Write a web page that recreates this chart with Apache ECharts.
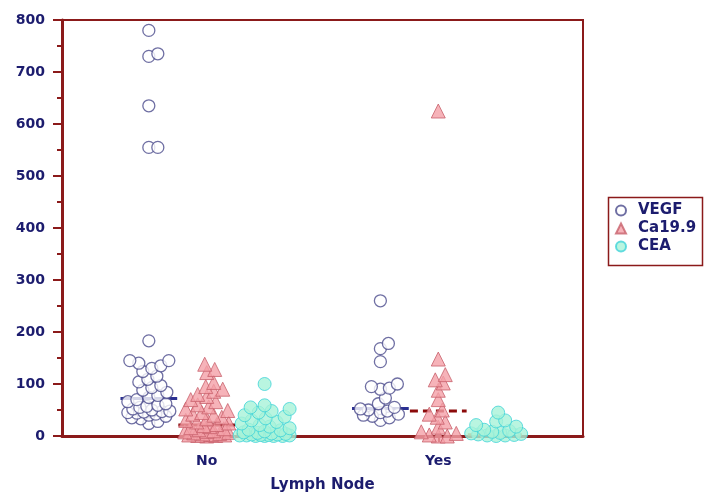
<!DOCTYPE html>
<html>
<head>
<meta charset="utf-8">
<script src="https://cdn.jsdelivr.net/npm/echarts@6/dist/echarts.min.js"></script>
<style>html,body{margin:0;padding:0;background:#fff}#c{width:704px;height:498px}</style>
</head>
<body>
<div id="c"></div>
<script>
// ---- data ----
var groups = ['No', 'Yes'];
var seriesNames = ['VEGF', 'Ca19.9', 'CEA'];
var vegfNo = [780, 735, 730, 635, 555, 555, 183, 145, 145, 140, 135, 130, 124, 115, 109, 104, 97, 93, 88, 84, 78, 74, 70, 66, 62, 59, 57, 55, 52, 50, 48, 47, 46, 45, 44, 42, 40, 38, 35, 33, 28, 24];
var caNo = [138, 128, 122, 103, 95, 90, 86, 80, 76, 70, 66, 60, 56, 52, 49, 45, 42, 40, 36, 33, 30, 27, 25, 22, 20, 18, 16, 14, 12, 10, 9, 8, 7, 6, 5, 4, 3, 2, 2, 1, 1, 0];
var ceaNo = [100, 59, 55, 52, 48, 45, 40, 37, 34, 30, 27, 24, 21, 18, 15, 12, 11, 9, 7, 6, 5, 4, 3, 3, 2, 2, 1, 1, 1, 0, 0, 0, 0];
var vegfYes = [260, 178, 168, 143, 100, 95, 92, 90, 73, 62, 55, 52, 50, 48, 45, 42, 40, 38, 35, 30];
var caYes = [625, 148, 118, 108, 102, 88, 70, 50, 42, 36, 27, 17, 8, 5, 2, 0, 0];
var ceaYes = [45, 30, 28, 21, 18, 12, 10, 8, 6, 5, 4, 3, 2, 1, 1, 0];
var medVEGF = [72, 53];
var medCa = [21, 48];
var medCEA = [4, 3];
var yTicks = [0, 100, 200, 300, 400, 500, 600, 700, 800];

// ---- layout helpers ----
var G = {left: 62, top: 20, right: 121, bottom: 59};
var W = 704, H = 498;
var xMin = 0, xMax = 9, yMax = 800;
var pxX = (W - G.left - G.right) / (xMax - xMin);
var pxY = (H - G.top - G.bottom) / yMax;
var groupCenter = [2.5, 6.5];
var seriesOffset = [-1, 0, 1];

function swarm(values, cx, minDist, maxOffPx) {
  var pts = values.slice().sort(function (a, b) { return a - b; });
  var placed = [];
  var out = [];
  var cands = [0];
  for (var o = 1; o <= maxOffPx; o += 1) { cands.push(o); cands.push(-o); }
  pts.forEach(function (v) {
    var py = v * pxY;
    var best = null, bestD = -1;
    for (var i = 0; i < cands.length; i++) {
      var px = cands[i];
      var md = Infinity;
      for (var j = 0; j < placed.length; j++) {
        var dx = placed[j][0] - px, dy = placed[j][1] - py;
        var d = Math.sqrt(dx * dx + dy * dy);
        if (d < md) md = d;
      }
      if (md >= minDist) { best = px; bestD = md; break; }
      if (md > bestD + 0.5) { bestD = md; best = px; }
    }
    placed.push([best, py]);
    out.push([cx + best / pxX, v]);
  });
  return out;
}

var navy = '#1c1c6e';
var red = '#8b1a1a';
var font = 'DejaVu Sans, Verdana, sans-serif';
var vegfStyle = {color: '#ffffff', borderColor: '#4b4b8c', borderWidth: 1.3};
var caStyle = {color: '#f4a0a8', borderColor: '#c8606c', borderWidth: 1};
var ceaStyle = {color: '#a8f2d8', borderColor: '#3fd3d8', borderWidth: 1};

var raw = [[vegfNo, caNo, ceaNo], [vegfYes, caYes, ceaYes]];
var sizes = [12, 14, 13];
var minD = [9, 8.5, 9];
var maxOff = [21, 22, 25];
var styles = [vegfStyle, caStyle, ceaStyle];
var symbols = ['circle', 'triangle', 'circle'];
var series = [];
for (var s = 0; s < 3; s++) {
  var data = [];
  for (var g = 0; g < 2; g++) {
    data = data.concat(swarm(raw[g][s], groupCenter[g] + seriesOffset[s], minD[s], maxOff[s]));
  }
  series.push({
    name: seriesNames[s], type: 'scatter', symbol: symbols[s], symbolSize: sizes[s],
    itemStyle: styles[s], data: data, z: 5, silent: true
  });
}
function medLine(vals, s, color, types, width) {
  for (var g = 0; g < 2; g++) {
    var c = groupCenter[g] + seriesOffset[s];
    series.push({
      type: 'line', symbol: 'none', z: 3, silent: true,
      lineStyle: {color: color, width: width, type: types[g]},
      data: [[c - 0.49, vals[g]], [c + 0.49, vals[g]]]
    });
  }
}
medLine(medVEGF, 0, '#2a2f92', ['solid', 'solid'], 3);
medLine(medCa, 1, '#8b0a0a', ['solid', [8, 5]], 3);
medLine(medCEA, 2, '#e0803a', [[4, 6], [4, 6]], 2.5);

var chart = echarts.init(document.getElementById('c'), null, {renderer: 'canvas'});
chart.setOption({
  animation: false,
  backgroundColor: '#ffffff',
  grid: {left: G.left, top: G.top, right: G.right, bottom: G.bottom, show: true, borderColor: red, borderWidth: 2},
  xAxis: {
    type: 'value', min: xMin, max: xMax,
    name: 'Lymph Node', nameLocation: 'middle', nameGap: 42,
    nameTextStyle: {color: navy, fontWeight: 'bold', fontSize: 15, fontFamily: font},
    axisLine: {lineStyle: {color: red, width: 3}},
    axisTick: {show: true, customValues: groupCenter, length: 6, lineStyle: {color: red, width: 2}},
    axisLabel: {
      customValues: groupCenter, margin: 18,
      formatter: function (v) { return groups[groupCenter.indexOf(v)] || ''; },
      color: navy, fontWeight: 'bold', fontSize: 14, fontFamily: font
    },
    splitLine: {show: false}
  },
  yAxis: {
    type: 'value', min: 0, max: yMax, interval: 100,
    axisLine: {show: true, lineStyle: {color: red, width: 3}},
    axisTick: {show: true, length: 9, lineStyle: {color: red, width: 2}},
    minorTick: {show: true, splitNumber: 2, length: 5, lineStyle: {color: red, width: 2}},
    axisLabel: {
      margin: 17, color: navy, fontWeight: 'bold', fontSize: 14, fontFamily: font,
      formatter: function (v) { return yTicks.indexOf(v) >= 0 ? String(v) : ''; }
    },
    splitLine: {show: false}
  },
  legend: {
    data: seriesNames, orient: 'vertical', left: 615, top: 203,
    itemWidth: 10, itemHeight: 10, itemGap: 3, padding: 0,
    textStyle: {color: navy, fontWeight: 'bold', fontSize: 15, fontFamily: font, padding: [0, 0, 0, 7]}
  },
  graphic: [{
    type: 'rect', left: 606, top: 195, z: 0,
    shape: {width: 94, height: 68},
    style: {fill: 'none', stroke: red, lineWidth: 1.5}
  }],
  series: series
});
</script>
</body>
</html>
